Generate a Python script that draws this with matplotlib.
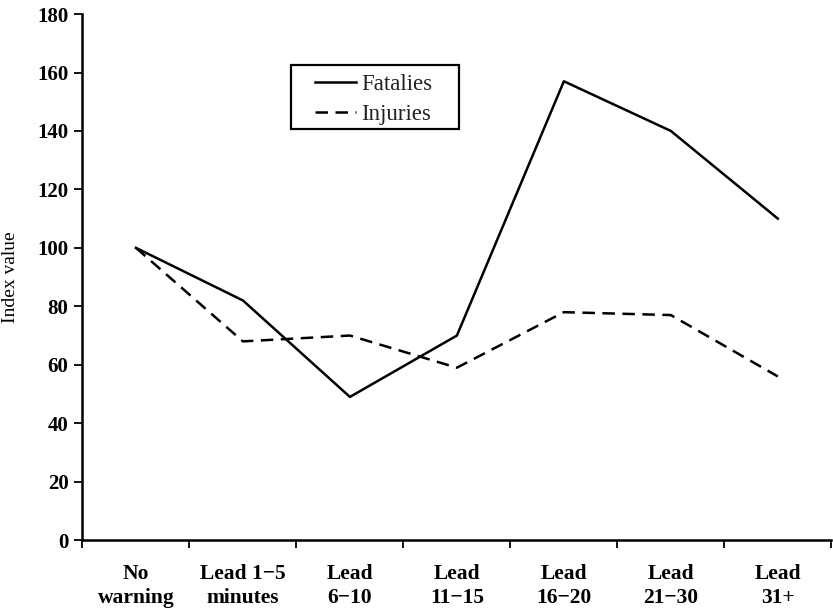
import matplotlib
matplotlib.use("Agg")
import matplotlib.pyplot as plt
from matplotlib.patches import Rectangle

categories = ["No\nwarning", "Lead 1\u22125\nminutes", "Lead\n6\u221210", "Lead\n11\u221215",
              "Lead\n16\u221220", "Lead\n21\u221230", "Lead\n31+"]
fatalities = [100, 82, 49, 70, 157, 140, 110]
injuries = [100, 68, 70, 59, 78, 77, 56]
yticks = [0, 20, 40, 60, 80, 100, 120, 140, 160, 180]

plt.rcParams["font.family"] = ["Liberation Serif", "DejaVu Serif"]

fig = plt.figure(figsize=(8.33, 6.11), dpi=100)
ax = fig.add_axes([0.099, 0.116, 0.899, 0.861])

xs = [i + 0.5 for i in range(len(categories))]
ax.plot(xs, fatalities, color="black", lw=1.8, label="Fatalies")
ax.plot(xs, injuries, color="black", lw=1.8, dashes=(5, 3), label="Injuries")

ax.set_xlim(0, len(categories))
ax.set_ylim(0, 180)
ax.set_yticks(yticks)
ax.set_yticklabels([str(v) for v in yticks], fontsize=15, fontweight="bold")
ax.set_xticks(range(len(categories) + 1))
ax.set_xticklabels([])
ax.set_xticks(xs, minor=True)
ax.set_xticklabels(categories, minor=True, fontsize=15.5, fontweight="bold",
                   linespacing=1.3)
ax.tick_params(axis="x", which="minor", length=0, pad=17)
ax.tick_params(axis="both", which="major", direction="out", length=6, width=1.3)
ax.tick_params(axis="y", pad=4)

for side in ["top", "right"]:
    ax.spines[side].set_visible(False)
for side in ["left", "bottom"]:
    ax.spines[side].set_linewidth(1.8)

ax.set_ylabel("Index value", fontsize=14, labelpad=13)

# legend box drawn by hand, the original has wide side padding
ax.add_patch(Rectangle((0.278, 0.781), 0.225, 0.122, transform=ax.transAxes,
                       fill=False, edgecolor="black", lw=1.6, clip_on=False))
leg = ax.legend(loc="upper left", bbox_to_anchor=(0.31, 0.887), fontsize=16.5,
                frameon=False, handlelength=1.8, handletextpad=0.25,
                borderpad=0, borderaxespad=0, labelspacing=0.4)
for t in leg.get_texts():
    t.set_color("#222222")

fig.savefig("out.png", dpi=100)
